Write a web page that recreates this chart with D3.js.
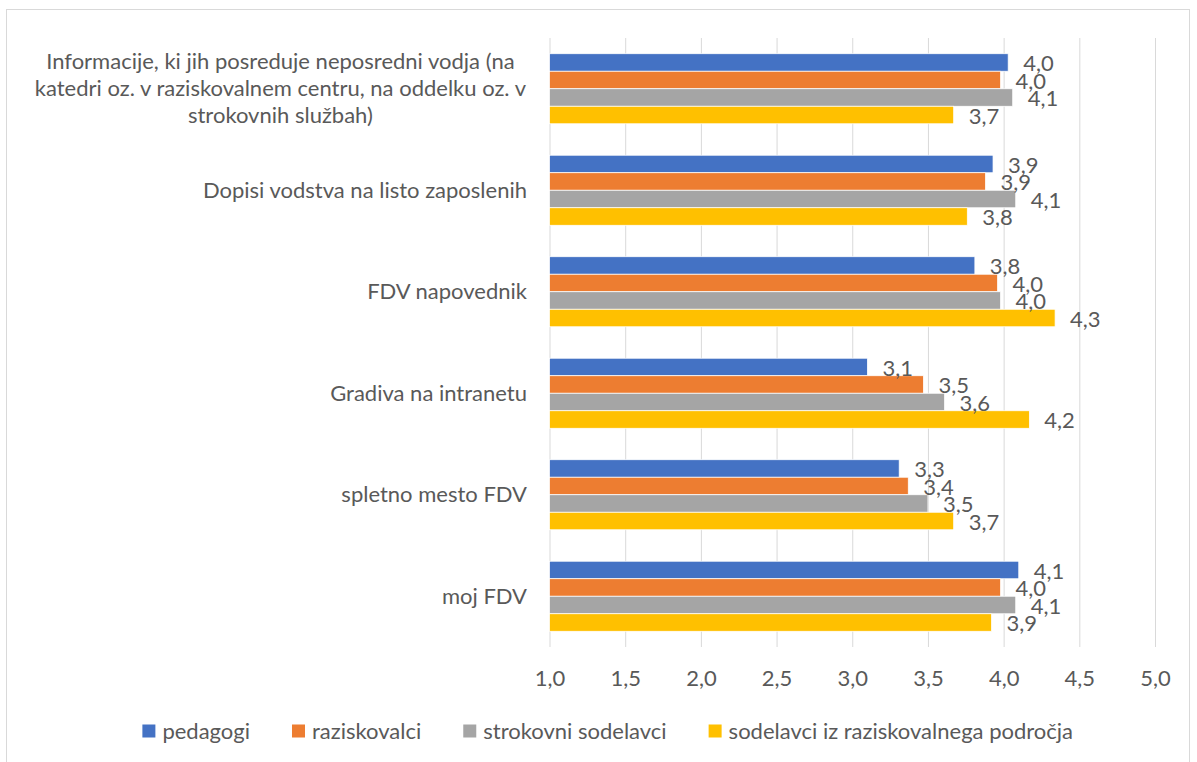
<!DOCTYPE html>
<html>
  <head>
    <meta charset="utf-8">
    <script src="https://d3js.org/d3.v7.min.js"></script>
    <style>
      body { margin: 0; background: #fff; }
      svg text { font-family: Lato, "Open Sans", sans-serif; font-size: 22px; fill: #595959; }
      .grid line { stroke: #d9d9d9; }
      .grid path { display: none; }
    </style>
    <title>Bar chart</title>
  </head>
  <body>
    <svg id="chart" width="1197" height="762"></svg>
    <script>
      var categories = [
        ["Informacije, ki jih posreduje neposredni vodja (na", "katedri oz. v raziskovalnem centru, na oddelku oz. v", "strokovnih službah)"],
        ["Dopisi vodstva na listo zaposlenih"],
        ["FDV napovednik"],
        ["Gradiva na intranetu"],
        ["spletno mesto FDV"],
        ["moj FDV"]
      ];
      var seriesNames = ["pedagogi", "raziskovalci", "strokovni sodelavci", "sodelavci iz raziskovalnega področja"];
      var colors = ["#4472c4", "#ed7d31", "#a5a5a5", "#ffc000"];
      var pedagogi     = [4.03, 3.93, 3.81, 3.10, 3.31, 4.10];
      var raziskovalci = [3.98, 3.88, 3.96, 3.47, 3.37, 3.98];
      var strokovni    = [4.06, 4.08, 3.98, 3.61, 3.50, 4.08];
      var sodelavci    = [3.67, 3.76, 4.34, 4.17, 3.67, 3.92];
      var tickValues = [1, 1.5, 2, 2.5, 3, 3.5, 4, 4.5, 5];

      var values = [pedagogi, raziskovalci, strokovni, sodelavci];
      var fmt = function(v){ return d3.format(".1f")(v).replace(".", ","); };

      var svg = d3.select("#chart");
      var plotLeft = 549.5, plotRight = 1155, plotTop = 38, plotBottom = 647;

      svg.append("rect").attr("x", 6.5).attr("y", 9.5).attr("width", 1183).attr("height", 800)
        .attr("fill", "#fff").attr("stroke", "#d9d9d9");

      var x = d3.scaleLinear().domain([1, 5]).range([plotLeft, plotRight]);
      var idx = categories.map(function(d, i){ return i; });
      var y = d3.scaleBand().domain(idx).range([plotTop, plotBottom]).paddingInner(0.31).paddingOuter(0.155);
      var y1 = d3.scaleBand().domain(d3.range(seriesNames.length)).range([0, y.bandwidth()]);

      // gridlines + tick labels
      var axis = svg.append("g").attr("class", "grid")
        .attr("transform", "translate(0," + plotBottom + ")")
        .call(d3.axisBottom(x).tickValues(tickValues).tickSize(-(plotBottom - plotTop)).tickFormat(fmt));
      axis.selectAll("text").attr("y", 31).attr("dy", "0.35em");

      // bars
      var group = svg.selectAll("g.cat").data(idx).enter().append("g")
        .attr("class", "cat")
        .attr("transform", function(i){ return "translate(0," + y(i) + ")"; });

      group.selectAll("rect").data(function(i){ return values.map(function(s, k){ return {k: k, v: s[i]}; }); })
        .enter().append("rect")
        .attr("x", x(1))
        .attr("y", function(d){ return y1(d.k); })
        .attr("width", function(d){ return x(d.v) - x(1); })
        .attr("height", y1.bandwidth())
        .attr("fill", function(d){ return colors[d.k]; })
        .attr("stroke", "#fff").attr("stroke-width", 0.75);

      group.selectAll("text.lbl").data(function(i){ return values.map(function(s, k){ return {k: k, v: s[i]}; }); })
        .enter().append("text").attr("class", "lbl")
        .attr("x", function(d){ return x(d.v) + 15; })
        .attr("y", function(d){ return y1(d.k) + y1.bandwidth() / 2 + 1; })
        .attr("dy", "0.35em")
        .text(function(d){ return fmt(d.v); });

      // category labels
      var lineH = 27;
      idx.forEach(function(i){
        var lines = categories[i];
        var cy = y(i) + y.bandwidth() / 2;
        var t = svg.append("text").attr("text-anchor", lines.length > 1 ? "middle" : "end");
        lines.forEach(function(l, j){
          t.append("tspan").attr("y", cy + (j - (lines.length - 1) / 2) * lineH).attr("dy", "0.35em").text(l);
        });
        if (lines.length > 1) {
          var w = d3.max(t.selectAll("tspan").nodes(), function(n){ return n.getComputedTextLength(); });
          t.selectAll("tspan").attr("x", 526 - w / 2);
        } else {
          t.selectAll("tspan").attr("x", 527);
        }
      });

      // legend
      var legend = svg.append("g");
      var lx = 0;
      seriesNames.forEach(function(n, k){
        var item = legend.append("g").attr("transform", "translate(" + lx + ",0)");
        item.append("rect").attr("x", 0).attr("y", -6.5).attr("width", 13).attr("height", 13).attr("fill", colors[k]);
        var t = item.append("text").attr("x", 20).attr("y", 0).attr("dy", "0.35em").text(n);
        lx += 20 + t.node().getComputedTextLength() + 42;
      });
      var total = lx - 42;
      legend.attr("transform", "translate(" + (607.7 - total / 2) + ",731)");
    </script>
  </body>
</html>
